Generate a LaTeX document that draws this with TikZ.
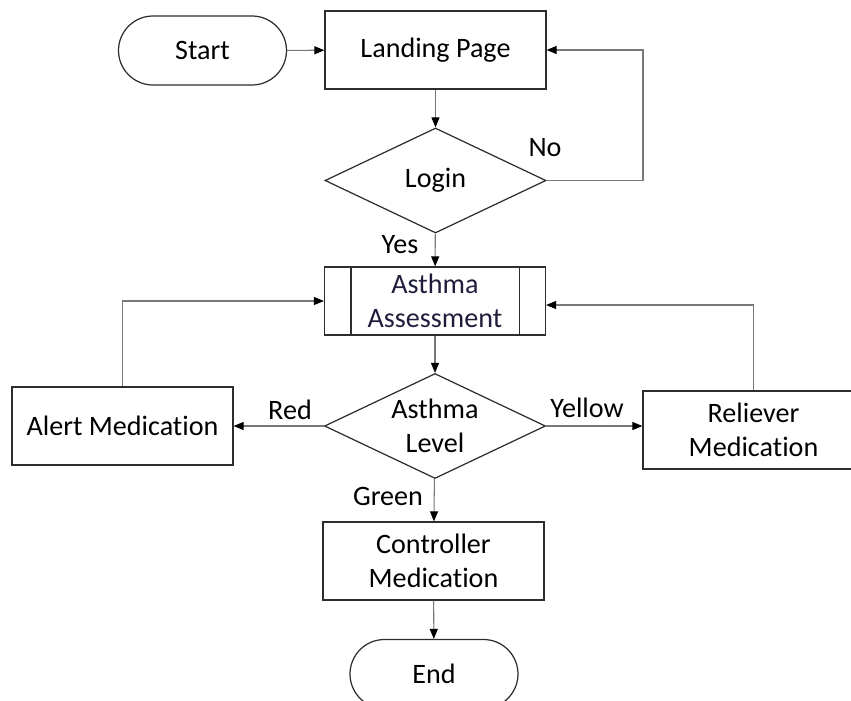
\documentclass[tikz,border=0pt]{standalone}
\usepackage{fontspec}
\setmainfont{Carlito}[Ligatures=NoCommon]
\usepackage{xcolor}
\usetikzlibrary{shapes.geometric,arrows.meta,positioning}

\definecolor{linegray}{RGB}{120,120,120}
\definecolor{boxline}{RGB}{45,45,45}
\definecolor{navytext}{RGB}{30,30,60}

\tikzset{
	base/.style={draw=boxline, line width=0.7pt, align=center, inner sep=0pt,
		font=\fontsize{16}{19}\selectfont},
	term/.style={base, rectangle, rounded corners=0.69cm, minimum width=3.36cm, minimum height=1.38cm},
	proc/.style={base, rectangle, minimum width=4.42cm, minimum height=1.56cm},
	subproc/.style={base, rectangle, minimum width=4.42cm, minimum height=1.36cm, text=navytext},
	decision/.style={base, diamond, aspect=2.1, minimum width=4.42cm, minimum height=2.1cm},
	lbl/.style={font=\fontsize{16}{19}\selectfont, inner sep=0pt},
	flow/.style={draw=linegray, line width=0.6pt, arrows={-{Triangle[length=2mm,width=1.6mm,color=black]}}}
}

\begin{document}
\begin{tikzpicture}

		\clip (0,0) rectangle (17.02,-14.02);
		\useasboundingbox (0,0) rectangle (17.02,-14.02);

			% main column
			\node[term] (start) at (4.05,-1.01) {Start};
			\node[proc] (landing) at (8.71,-1.0) {Landing Page};
			\node[decision] (login) at (8.71,-3.61) {Login};
			\node[subproc] (assess) at (8.7,-6.02) {\raisebox{-3pt}{\parbox{4cm}{\centering Asthma\\Assessment}}};
			\node[decision] (level) at (8.7,-8.52) {Asthma\\Level};
			\node[proc] (controller) at (8.67,-11.22) {Controller\\Medication};
			\node[term] (end) at (8.68,-13.48) {End};

			% side boxes
			\node[proc] (alert) at (2.45,-8.52) {Alert Medication};
			\node[proc] (reliever) at (15.07,-8.6) {Reliever\\Medication};

			% inner bars of the sub-process box
			\draw[boxline, line width=0.7pt] ([xshift=0.54cm]assess.north west) -- ([xshift=0.54cm]assess.south west);
			\draw[boxline, line width=0.7pt] ([xshift=-0.54cm]assess.north east) -- ([xshift=-0.54cm]assess.south east);

			\coordinate (noturn) at (12.86,-3.61);
			\coordinate (relin) at ([yshift=-0.08cm]assess.east);

			\draw[flow] (start) -- (landing);
			\draw[flow] (landing) -- (login);
			\draw[flow] (login.east) -- (noturn) |- (landing.east);
			\draw[flow] (login) -- (assess);
			\draw[flow] (assess) -- (level);
			\draw[flow] (level.west) -- (alert.east);
			\draw[flow] (level.east) -- (level.east -| reliever.west);
			\draw[flow] (level) -- (controller);
			\draw[flow] (controller) -- (end);
			\draw[flow] (alert.north) |- (assess.west);
			\draw[flow] (reliever.north) |- (relin);

			% branch labels
			\node[lbl] (no) at (10.9,-2.96) {No};
			\node[lbl] (yes) at (8.0,-4.9) {Yes};
			\node[lbl] (red) at (5.8,-8.2) {Red};
			\node[lbl] (yellow) at (11.74,-8.16) {Yellow};
			\node[lbl] (green) at (7.76,-9.92) {Green};

\end{tikzpicture}
\end{document}
